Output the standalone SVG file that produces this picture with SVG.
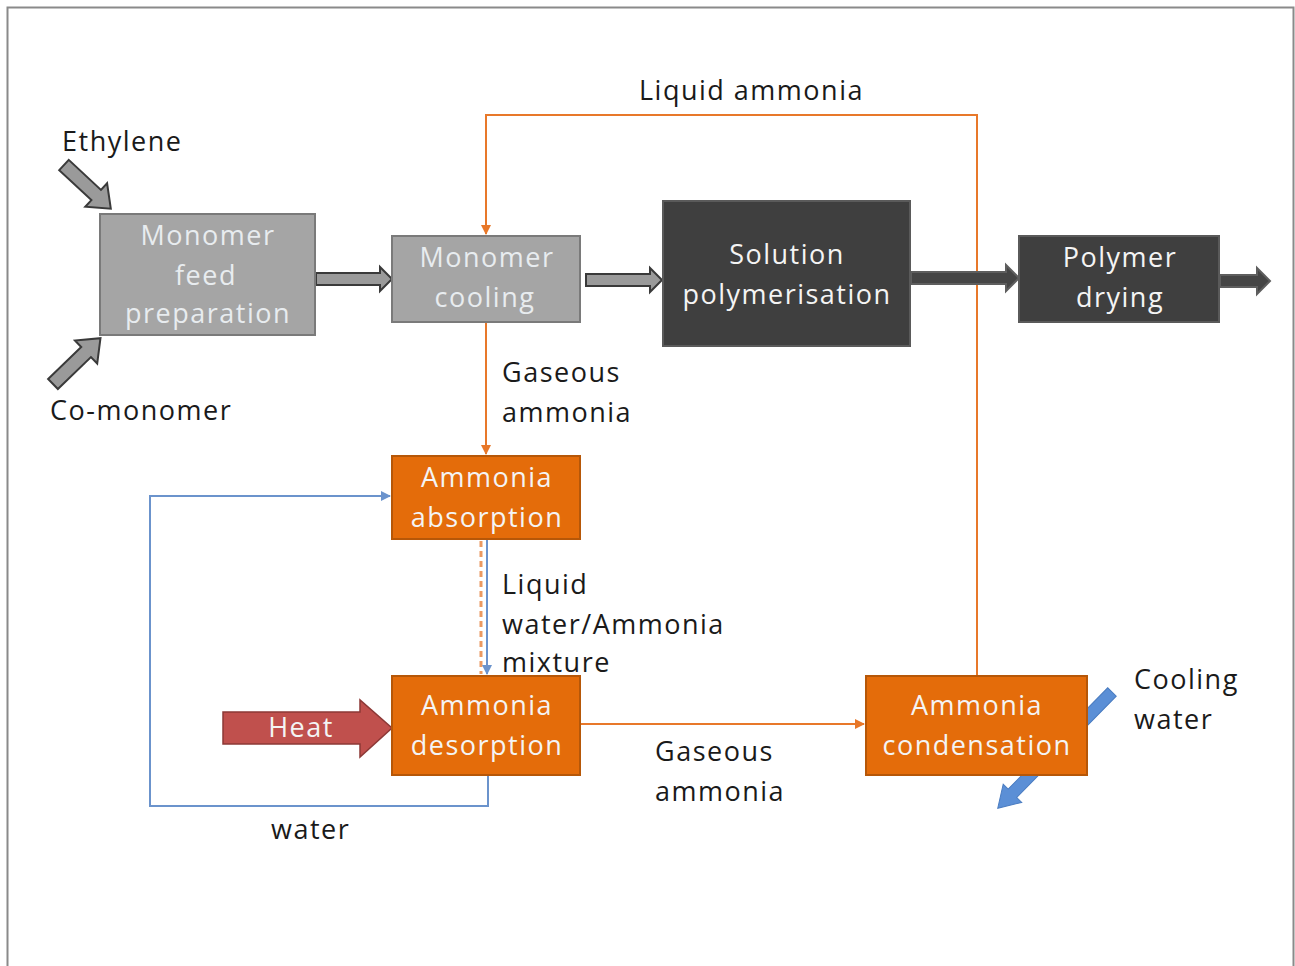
<svg xmlns="http://www.w3.org/2000/svg" width="1295" height="966" viewBox="0 0 1295 966">
<defs>
<style>
text{font-family:"Open Sans","DejaVu Sans",sans-serif;font-size:27px;letter-spacing:1.5px}
.lbl{fill:#1a1a1a}
.wt{fill:#f4f4f4;text-anchor:middle}
.lt{fill:#e8ecef;text-anchor:middle}
.grey{fill:#a5a5a5;stroke:#7a7a7a;stroke-width:2}
.dark{fill:#3f3f3f;stroke:#5a5a5a;stroke-width:2}
.orng{fill:#e46c0a;stroke:#b65708;stroke-width:2}
.ol{fill:none;stroke:#e8782a;stroke-width:2}
.bl{fill:none;stroke:#6b93cc;stroke-width:2}
.ga{fill:#9a9a9a;stroke:#3a3a3a;stroke-width:2}
.da{fill:#454545;stroke:#5e5e5e;stroke-width:2}
</style>
<marker id="ao" viewBox="0 0 10 10" refX="9" refY="5" markerWidth="5" markerHeight="5" orient="auto"><path d="M0,0 L10,5 L0,10 z" fill="#e8782a"/></marker>
<marker id="ab" viewBox="0 0 10 10" refX="9" refY="5" markerWidth="5" markerHeight="5" orient="auto"><path d="M0,0 L10,5 L0,10 z" fill="#6b93cc"/></marker>
</defs>
<rect x="0" y="0" width="1295" height="966" fill="#ffffff"/>
<path d="M7.5,970 V7.5 H1293.5 V970" fill="none" stroke="#8a8a8a" stroke-width="2"/>

<g id="coolingwater-arrow">
<path transform="translate(1112,692) rotate(134.5)" d="M0,-6 H142 V-13 L163,0 L142,13 V6 H0 Z" fill="#5b8fd6" stroke="#4a7cc0" stroke-width="1"/>
</g>

<g id="connectors">
<path class="ol" d="M977,676 V115 H486 V234" marker-end="url(#ao)"/>
<path class="ol" d="M486,322 V454" marker-end="url(#ao)"/>
<path d="M481,541 V674" fill="none" stroke="#eb9a62" stroke-width="3" stroke-dasharray="6,4"/>
<path class="bl" d="M487,539 V674" marker-end="url(#ab)"/>
<path class="ol" d="M580,724 H864" marker-end="url(#ao)"/>
<path class="bl" d="M488,775 V806 H150 V496 H390" marker-end="url(#ab)"/>
<path class="ga" d="M316,273 H380 V267 L392,279 L380,291 V285 H316 Z"/>
<path class="ga" d="M586,274 H650 V268 L662,280 L650,292 V286 H586 Z"/>
<path class="da" d="M911,272 H1006 V265 L1019,278 L1006,291 V284 H911 Z"/>
<path class="da" d="M1220,275 H1257 V268 L1270,281 L1257,294 V287 H1220 Z"/>
<path class="ga" transform="translate(64,165) rotate(43)" d="M0,-7 H44 V-16 L64,0 L44,16 V7 H0 Z"/>
<path class="ga" transform="translate(53,384) rotate(-44)" d="M0,-7 H46 V-16 L66,0 L46,16 V7 H0 Z"/>
</g>

<g id="heat">
<path d="M223,712 H360 V700 L392,728 L360,757 V744 H223 Z" fill="#c0504d" stroke="#8c3836" stroke-width="1.5"/>
<text class="wt" x="301" y="737">Heat</text>
</g>

<g id="monomer-feed">
<rect class="grey" x="100" y="214" width="215" height="121"/>
<text class="lt" x="208" y="245">Monomer</text>
<text class="lt" x="206" y="285">feed</text>
<text class="lt" x="208" y="323">preparation</text>
</g>
<g id="monomer-cooling">
<rect class="grey" x="392" y="236" width="188" height="86"/>
<text class="lt" x="487" y="267">Monomer</text>
<text class="lt" x="485" y="307">cooling</text>
</g>
<g id="solution-polymerisation">
<rect class="dark" x="663" y="201" width="247" height="145"/>
<text class="wt" x="787" y="264">Solution</text>
<text class="wt" x="787" y="304">polymerisation</text>
</g>
<g id="polymer-drying">
<rect class="dark" x="1019" y="236" width="200" height="86"/>
<text class="wt" x="1120" y="267">Polymer</text>
<text class="wt" x="1120" y="307">drying</text>
</g>
<g id="ammonia-absorption">
<rect class="orng" x="392" y="456" width="188" height="83"/>
<text class="wt" x="487" y="487">Ammonia</text>
<text class="wt" x="487" y="527">absorption</text>
</g>
<g id="ammonia-desorption">
<rect class="orng" x="392" y="676" width="188" height="99"/>
<text class="wt" x="487" y="715">Ammonia</text>
<text class="wt" x="487" y="755">desorption</text>
</g>
<g id="ammonia-condensation">
<rect class="orng" x="866" y="676" width="221" height="99"/>
<text class="wt" x="977" y="715">Ammonia</text>
<text class="wt" x="977" y="755">condensation</text>
</g>

<g id="labels">
<text class="lbl" x="639" y="100">Liquid ammonia</text>
<text class="lbl" x="62" y="151">Ethylene</text>
<text class="lbl" x="50" y="420">Co-monomer</text>
<text class="lbl" x="502" y="382">Gaseous</text>
<text class="lbl" x="502" y="422">ammonia</text>
<text class="lbl" x="502" y="594">Liquid</text>
<text class="lbl" x="502" y="634">water/Ammonia</text>
<text class="lbl" x="502" y="672">mixture</text>
<text class="lbl" x="655" y="761">Gaseous</text>
<text class="lbl" x="655" y="801">ammonia</text>
<text class="lbl" x="1134" y="689">Cooling</text>
<text class="lbl" x="1134" y="729">water</text>
<text class="lbl" x="271" y="839">water</text>
</g>
</svg>
